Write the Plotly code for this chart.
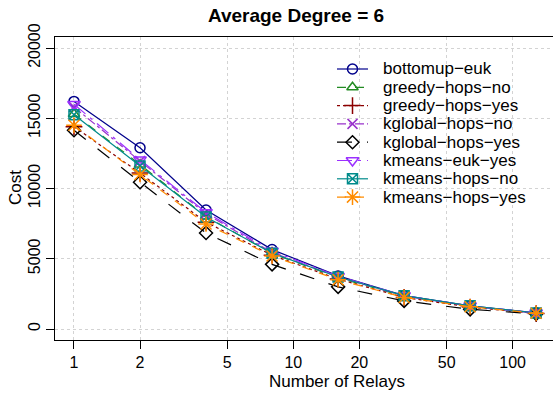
import plotly.graph_objects as go

relays = [1, 2, 4, 8, 16, 32, 64, 128]
series_names = ["bottomup\u2212euk", "greedy\u2212hops\u2212no", "greedy\u2212hops\u2212yes",
                "kglobal\u2212hops\u2212no", "kglobal\u2212hops\u2212yes", "kmeans\u2212euk\u2212yes",
                "kmeans\u2212hops\u2212no", "kmeans\u2212hops\u2212yes"]
bottomup_euk = [16200, 12900, 8470, 5650, 3780, 2380, 1650, 1150]
greedy_hops_no = [15300, 11700, 8000, 5380, 3650, 2330, 1620, 1130]
greedy_hops_yes = [14400, 11100, 7600, 5250, 3550, 2250, 1560, 1100]
kglobal_hops_no = [15800, 11950, 8200, 5450, 3700, 2350, 1630, 1120]
kglobal_hops_yes = [14150, 10450, 6830, 4600, 3000, 2000, 1400, 1080]
kmeans_euk_yes = [16000, 12050, 8300, 5550, 3750, 2380, 1650, 1150]
kmeans_hops_no = [15250, 11600, 7970, 5400, 3700, 2370, 1650, 1140]
kmeans_hops_yes = [14500, 11000, 7470, 5200, 3500, 2250, 1580, 1120]
x_ticks = [1, 2, 5, 10, 20, 50, 100]
y_ticks = [0, 5000, 10000, 15000, 20000]

values = [bottomup_euk, greedy_hops_no, greedy_hops_yes, kglobal_hops_no,
          kglobal_hops_yes, kmeans_euk_yes, kmeans_hops_no, kmeans_hops_yes]
colors = ["#00008B", "#228B22", "#8B0000", "#9932CC", "#000000", "#9B30FF", "#008B8B", "#FF8C00"]
dashes = ["solid", "dash", "dot", "dashdot", "longdash", "longdashdot", "solid", "dash"]
symbols = ["circle-open", "triangle-up-open", "cross-thin-open", "x-thin-open",
           "diamond-open", "triangle-down-open", "square-x-open", "asterisk-open"]
sizes = [10, 10, 12, 10, 10, 11, 10, 13]

font = "Liberation Sans, Arial, Helvetica, sans-serif"
L, R, T, B = 55, 553, 37, 340  # plot area in page pixels
W, H = 553, 396


def px(xp):
    return (xp - L) / (R - L)


def py(yp):
    return (B - yp) / (B - T)


fig = go.Figure()
for name, vals, c, d, s, sz in zip(series_names, values, colors, dashes, symbols, sizes):
    fig.add_trace(go.Scatter(
        x=relays, y=vals, name=name, mode="lines+markers", showlegend=False,
        line=dict(color=c, width=1.2, dash=d),
        marker=dict(symbol=s, size=sz, color=c, line=dict(color=c, width=1.5)),
    ))

# Legend drawn on an overlay axis measured in page pixels
leg_x0, leg_x1, leg_text_x = 337, 368, 383
leg_y0, leg_dy = 69, 18.3
for i, (name, c, d, s, sz) in enumerate(zip(series_names, colors, dashes, symbols, sizes)):
    yy = leg_y0 + i * leg_dy
    fig.add_trace(go.Scatter(x=[leg_x0, leg_x1], y=[yy, yy], mode="lines", xaxis="x2", yaxis="y2",
                             showlegend=False, hoverinfo="skip",
                             line=dict(color=c, width=1.2, dash=d)))
    fig.add_trace(go.Scatter(x=[(leg_x0 + leg_x1) / 2], y=[yy], mode="markers", xaxis="x2", yaxis="y2",
                             showlegend=False, hoverinfo="skip",
                             marker=dict(symbol=s, size=sz, color=c, line=dict(color=c, width=1.5))))
    fig.add_annotation(x=px(leg_text_x), y=py(yy), xref="paper", yref="paper", text=name,
                       showarrow=False, xanchor="left", yanchor="middle", borderpad=0, borderwidth=0,
                       font=dict(size=17, family=font))

fig.add_annotation(x=px(337), y=py(381), xref="paper", yref="paper", text="Number of Relays",
                   showarrow=False, xanchor="center", yanchor="middle", font=dict(size=17, family=font))
fig.add_annotation(x=px(15), y=py(188), xref="paper", yref="paper", text="Cost", textangle=-90,
                   showarrow=False, xanchor="center", yanchor="middle", font=dict(size=17, family=font))

fig.update_layout(
    width=W, height=H,
    margin=dict(l=L, r=W - R, t=T, b=H - B, autoexpand=False),
    paper_bgcolor="white", plot_bgcolor="white",
    font=dict(family=font, size=16, color="black"),
    title=dict(text="<b>Average Degree = 6</b>", x=296 / W, xanchor="center",
               y=1 - 15 / H, yanchor="middle", font=dict(size=19)),
    showlegend=False,
    xaxis=dict(type="log", range=[-0.0866, 2.184], tickvals=x_ticks,
               ticktext=[str(v) for v in x_ticks], automargin=False,
               showgrid=True, gridcolor="#d3d3d3", griddash="dot", gridwidth=1,
               showline=True, linecolor="black", linewidth=1, mirror=True,
               ticks="outside", ticklen=8, tickcolor="black",
               zeroline=False, tickfont=dict(size=16)),
    yaxis=dict(range=[-783, 20783], tickvals=y_ticks, ticktext=[str(v) for v in y_ticks],
               automargin=False,
               showgrid=True, gridcolor="#d3d3d3", griddash="dot", gridwidth=1,
               showline=True, linecolor="black", linewidth=1, mirror=True,
               ticks="outside", ticklen=8, tickcolor="black", tickangle=-90,
               zeroline=False, tickfont=dict(size=16)),
    xaxis2=dict(overlaying="x", anchor="y2", range=[L, R], visible=False, fixedrange=True),
    yaxis2=dict(overlaying="y", anchor="x2", range=[B, T], visible=False, fixedrange=True),
)

fig.write_html("out.html", config={"displayModeBar": False},
               post_script="document.body.style.margin='0px';document.body.style.overflow='hidden';")
